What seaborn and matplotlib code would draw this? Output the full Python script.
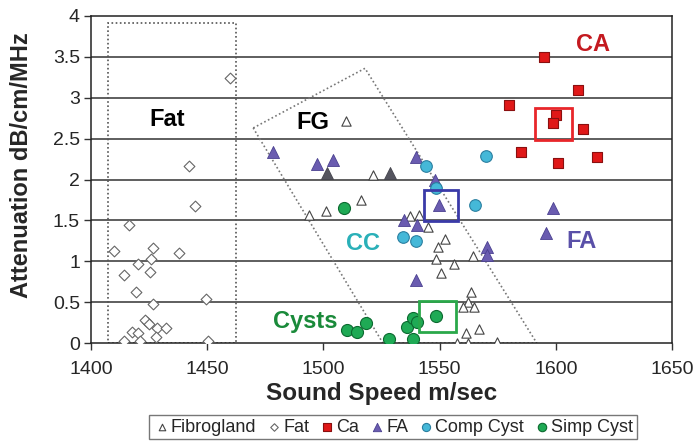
import matplotlib
matplotlib.use("Agg")
import matplotlib.pyplot as plt
import pandas as pd
import seaborn as sns
from matplotlib.patches import Polygon, Rectangle

# values
fibro_speed = [1509.7, 1521.2, 1516.0, 1501.1, 1493.8, 1537.3, 1545.1, 1552.3, 1549.4,
               1564.2, 1548.4, 1556.3, 1550.6, 1563.5, 1562.4, 1560.2, 1564.9, 1567.1,
               1561.4, 1557.4, 1562.4, 1574.6, 1541.0]
fibro_atten = [2.71, 2.05, 1.75, 1.62, 1.57, 1.55, 1.42, 1.27, 1.17,
               1.06, 1.03, 0.97, 0.86, 0.63, 0.50, 0.44, 0.44, 0.17,
               0.12, 0.00, 0.00, 0.01, 1.57]

fat_speed = [1459.8, 1442.3, 1444.7, 1416.4, 1410.0, 1426.8, 1437.9, 1425.8, 1420.4,
             1414.3, 1425.4, 1419.2, 1426.8, 1449.5, 1424.0, 1417.5, 1420.4, 1423.2,
             1425.1, 1428.3, 1432.3, 1427.8, 1414.3, 1421.1, 1450.5]
fat_atten = [3.24, 2.17, 1.68, 1.44, 1.13, 1.16, 1.10, 1.03, 0.97,
             0.83, 0.87, 0.63, 0.48, 0.54, 0.26, 0.14, 0.12, 0.28,
             0.23, 0.18, 0.18, 0.07, 0.02, 0.03, 0.03]

ca_speed = [1594.9, 1609.7, 1580.0, 1600.1, 1598.7, 1611.6, 1584.9, 1617.6, 1600.8]
ca_atten = [3.50, 3.10, 2.91, 2.79, 2.69, 2.62, 2.34, 2.28, 2.20]

fa_speed = [1478.4, 1497.4, 1504.0, 1539.7, 1548.0, 1549.7, 1534.8, 1540.1,
            1570.3, 1570.3, 1539.8, 1598.9, 1595.8]
fa_atten = [2.34, 2.19, 2.24, 2.28, 1.99, 1.69, 1.50, 1.44,
            1.18, 1.08, 0.77, 1.65, 1.34]
fa_dark_speed = [1501.7, 1528.7]
fa_dark_atten = [2.08, 2.08]

comp_speed = [1570.0, 1544.1, 1548.5, 1565.2, 1534.1, 1539.8]
comp_atten = [2.29, 2.17, 1.89, 1.69, 1.30, 1.25]

simp_speed = [1510.0, 1514.6, 1518.3, 1528.4, 1536.0, 1538.4, 1540.1, 1538.7, 1548.3, 1509.0]
simp_atten = [0.16, 0.14, 0.25, 0.05, 0.20, 0.30, 0.26, 0.05, 0.33, 1.65]

# region outlines and highlight boxes (speed, attenuation)
fat_region = [(1407.5, 0.0), (1462.3, 3.91)]
fg_region = [(1469.8, 2.63), (1517.9, 3.36), (1591.8, 0.0), (1525.6, 0.0)]
boxes = [((1591, 2.48), (1607, 2.88), "#e8262a"),
         ((1543.4, 1.49), (1558, 1.87), "#3a3aa8"),
         ((1541.3, 0.13), (1557.1, 0.52), "#2aa84a")]

labels = [("Fat", 1433, 2.74, "black"), ("FG", 1495.5, 2.70, "black"),
          ("CA", 1616, 3.65, "#c41a20"), ("FA", 1611, 1.24, "#5a50a8"),
          ("CC", 1517, 1.22, "#2ab0b8"), ("Cysts", 1492, 0.26, "#1a8a3a")]

sns.set_style("white")
plt.rcParams["font.family"] = ["Liberation Sans", "DejaVu Sans"]

fig = plt.figure(figsize=(6.93, 4.43), dpi=100)
ax = fig.add_axes([0.1313, 0.2257, 0.9697 - 0.1313, 0.9639 - 0.2257])

for y in [0.5, 1, 1.5, 2, 2.5, 3, 3.5]:
    ax.axhline(y, color="#333333", lw=1.1, zorder=1)

(x0, y0), (x1, y1) = fat_region
ax.add_patch(Rectangle((x0, y0), x1 - x0, y1 - y0, fill=False, ls=(0, (1, 1.5)),
                       lw=1.2, ec="#555555", zorder=2))
ax.add_patch(Polygon(fg_region, closed=True, fill=False, ls=(0, (1, 1.5)),
                     lw=1.2, ec="#777777", zorder=2))

series = [
    ("Fibrogland", fibro_speed, fibro_atten, "^", "white", "#444444", 45, 0.8),
    ("Fat", fat_speed, fat_atten, "D", "white", "#666666", 30, 0.8),
    ("_fa_dark", fa_dark_speed, fa_dark_atten, "^", "#55555f", "#44444c", 75, 0.6),
    ("FA", fa_speed, fa_atten, "^", "#6a5cb0", "#4a4090", 75, 0.6),
    ("Comp Cyst", comp_speed, comp_atten, "o", "#45b8d8", "#2a7fa0", 70, 0.8),
    ("Simp Cyst", simp_speed, simp_atten, "o", "#1faa55", "#0c6a30", 75, 0.8),
    ("Ca", ca_speed, ca_atten, "s", "#e01818", "#8a1010", 55, 0.8),
]
for name, xs, ys, mk, fc, ec, sz, lw in series:
    df = pd.DataFrame({"speed": xs, "atten": ys})
    sns.scatterplot(data=df, x="speed", y="atten", marker=mk, color=fc, edgecolor=ec,
                    s=sz, linewidth=lw, ax=ax, zorder=3, label=name, legend=False)

for (bx0, by0), (bx1, by1), col in boxes:
    ax.add_patch(Rectangle((bx0, by0), bx1 - bx0, by1 - by0, fill=False, ec=col,
                           lw=2.0, zorder=4))

for txt, x, y, col in labels:
    ax.text(x, y, txt, color=col, fontsize=17, fontweight="bold",
            ha="center", va="center", zorder=5)

ax.set_xlim(1400, 1650)
ax.set_ylim(0, 4)
ax.set_xticks([1400, 1450, 1500, 1550, 1600, 1650])
ax.set_yticks([0, 0.5, 1, 1.5, 2, 2.5, 3, 3.5, 4])
ax.set_yticklabels(["0", "0.5", "1", "1.5", "2", "2.5", "3", "3.5", "4"])
ax.tick_params(axis="both", labelsize=14, length=5, width=1, direction="out",
               bottom=True, left=True, color="#333333")
ax.tick_params(axis="x", pad=8)
ax.tick_params(axis="y", pad=3)
for sp in ax.spines.values():
    sp.set_color("#222222")
    sp.set_linewidth(1.1)
ax.set_xlabel("Sound Speed m/sec", fontsize=17.5, fontweight="bold", labelpad=3)
ax.set_ylabel("Attenuation dB/cm/MHz", fontsize=17, fontweight="bold")
ax.yaxis.set_label_coords(-0.1, 0.545)

order = ["Fibrogland", "Fat", "Ca", "FA", "Comp Cyst", "Simp Cyst"]
handles, names = ax.get_legend_handles_labels()
lookup = dict(zip(names, handles))
leg = fig.legend([lookup[n] for n in order], order, loc="center", ncol=6,
                 bbox_to_anchor=(0.567, 0.036), fontsize=13, frameon=True,
                 handletextpad=0.0, columnspacing=0.5, handlelength=1.0,
                 borderpad=0.2, markerscale=0.7, fancybox=False)
leg.get_frame().set_edgecolor("#555555")
leg.get_frame().set_linewidth(1.0)

fig.savefig("out.png", dpi=100)
